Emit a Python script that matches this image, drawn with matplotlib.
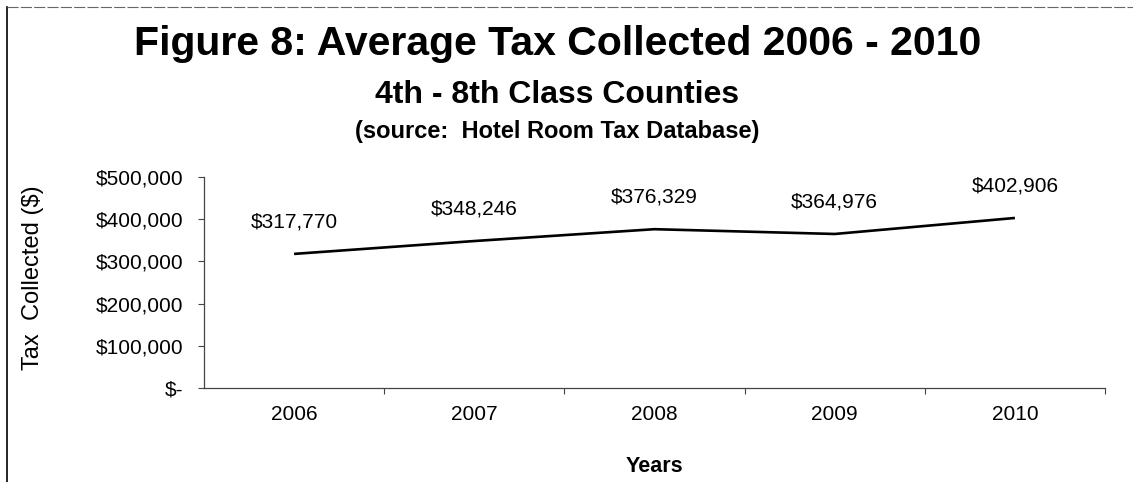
import matplotlib
matplotlib.use("Agg")
import matplotlib.pyplot as plt
from matplotlib.lines import Line2D
from matplotlib.ticker import FixedLocator, FuncFormatter

plt.rcParams["font.family"] = ["Liberation Sans", "DejaVu Sans"]

# Average hotel room tax collected, 4th - 8th class counties
years = ["2006", "2007", "2008", "2009", "2010"]
tax = [317770, 348246, 376329, 364976, 402906]
y_ticks = [0, 100000, 200000, 300000, 400000, 500000]

fig = plt.figure(figsize=(11.33, 4.82), dpi=100)
ax = fig.add_axes([0.180, 0.195, 0.7953, 0.4378])

x = list(range(len(years)))
ax.plot(x, tax, color="black", lw=1.9, solid_capstyle="butt")

for xi, v in zip(x, tax):
    ax.annotate("${:,}".format(v), (xi, v), xytext=(0, 32), textcoords="offset pixels",
                ha="center", va="center", fontsize=15)

ax.set_xlim(-0.5, len(years) - 0.5)
ax.set_ylim(0, 500000)

# category labels in the middle, tick marks between categories
ax.set_xticks(x)
ax.set_xticklabels(years, fontsize=15)
ax.xaxis.set_minor_locator(FixedLocator([i + 0.5 for i in x]))
ax.tick_params(axis="x", which="major", length=0, pad=12)
ax.tick_params(axis="x", which="minor", length=4, width=0.8, color="#444444", direction="out")

ax.set_yticks(y_ticks)
ax.yaxis.set_major_formatter(FuncFormatter(lambda v, p: "$-" if v == 0 else "${:,.0f}".format(v)))
ax.tick_params(axis="y", length=4, width=0.8, color="#444444", pad=11, labelsize=15)

for side in ["top", "right"]:
    ax.spines[side].set_visible(False)
for side in ["left", "bottom"]:
    ax.spines[side].set_color("#444444")
    ax.spines[side].set_linewidth(0.9)

ax.set_xlabel("Years", fontsize=15.5, fontweight="bold", labelpad=23)
fig.text(0.029, 0.423, "Tax  Collected ($)", rotation=90, ha="center", va="center", fontsize=17)

# titles
fig.text(0.492, 0.886, "Figure 8: Average Tax Collected 2006 - 2010", ha="center", va="baseline",
         fontsize=29.5, fontweight="bold")
fig.text(0.492, 0.786, "4th - 8th Class Counties", ha="center", va="baseline",
         fontsize=23, fontweight="bold")
fig.text(0.492, 0.714, "(source:  Hotel Room Tax Database)", ha="center", va="baseline",
         fontsize=17, fontweight="bold")

# page frame lines
fig.add_artist(Line2D([0.0065, 0.0065], [0.0, 0.986], transform=fig.transFigure, color="black", lw=1.2))
fig.add_artist(Line2D([0.0065, 1.0], [0.986, 0.986], transform=fig.transFigure, color="#666666",
                      lw=0.8, linestyle=(0, (10, 2))))

fig.savefig("out.png", dpi=100)
